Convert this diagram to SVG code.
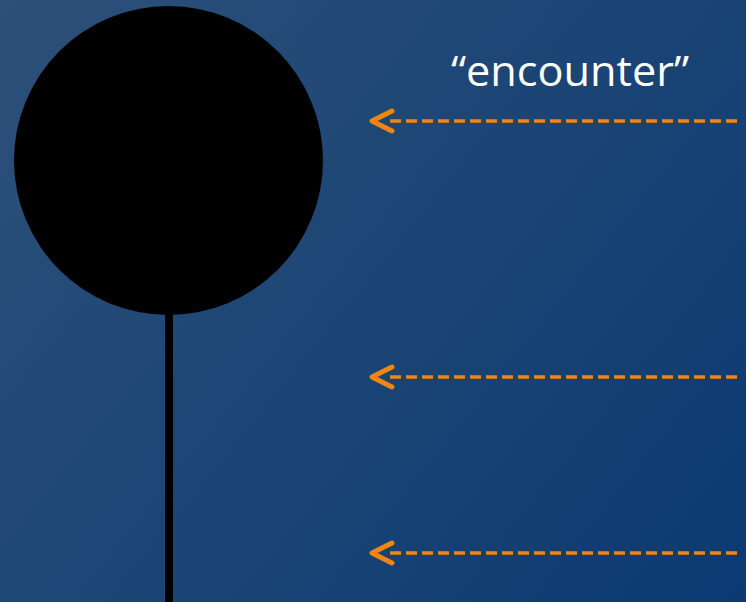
<svg xmlns="http://www.w3.org/2000/svg" width="746" height="602" viewBox="0 0 746 602">
<defs>
<linearGradient id="bg" x1="0" y1="0" x2="746" y2="602" gradientUnits="userSpaceOnUse">
<stop offset="0" stop-color="#2d5079"/>
<stop offset="1" stop-color="#0a3a72"/>
</linearGradient>
<style>
.arrow{stroke:#f0860f;stroke-width:3.5;fill:none;stroke-dasharray:11 5}
.head{stroke:#f0860f;stroke-width:5;fill:none;stroke-linecap:round;stroke-linejoin:round}
.lbl{font-family:"Open Sans","Liberation Sans",sans-serif;font-size:42px;fill:#ffffff}
</style>
</defs>
<rect width="746" height="602" fill="url(#bg)"/>
<g id="pin">
<rect x="165" y="300" width="8" height="302" fill="#000"/>
<circle cx="168.5" cy="160.5" r="154.5" fill="#000"/>
</g>
<g id="label">
<text class="lbl" x="570" y="86" text-anchor="middle" textLength="238" lengthAdjust="spacingAndGlyphs">“encounter”</text>
</g>
<g id="connectors">
<line class="arrow" x1="737" y1="121" x2="389" y2="121"/>
<polyline class="head" points="392,111 372,121 392,131"/>
<line class="arrow" x1="737" y1="377" x2="389" y2="377"/>
<polyline class="head" points="392,367 372,377 392,387"/>
<line class="arrow" x1="737" y1="553" x2="389" y2="553"/>
<polyline class="head" points="392,543 372,553 392,563"/>
</g>
</svg>
